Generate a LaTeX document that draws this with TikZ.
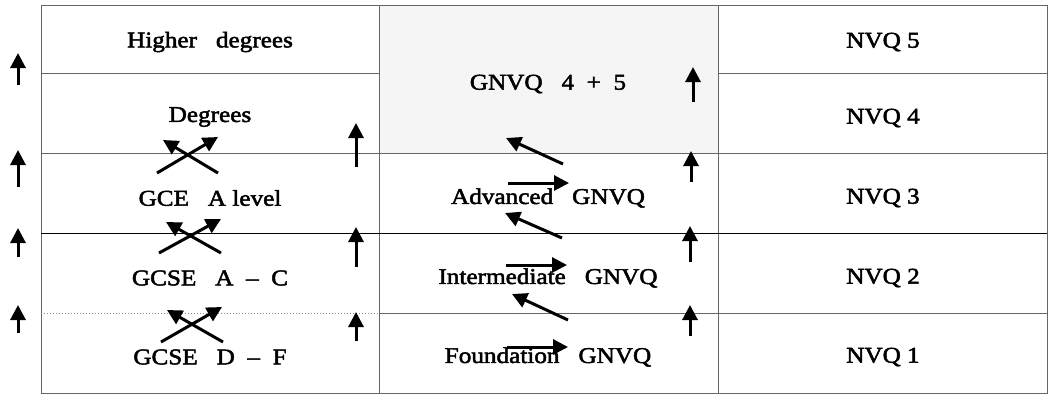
\documentclass[tikz,border=0pt]{standalone}
\usepackage{fontspec}
\setmainfont{Liberation Serif}[FakeStretch=1.12,FakeBold=2.2]
\usetikzlibrary{arrows.meta}
\begin{document}
\begin{tikzpicture}
[x=1pt,y=-1pt,
grid/.style={draw=black!60,line width=1pt},
celltext/.style={font=\fontsize{22.5}{26}\selectfont,inner sep=0pt},
jump/.style={line width=3pt,-{Triangle[length=15pt,width=15pt]}}]
	\useasboundingbox (0,0) rectangle (1048,394);
	\fill[black!4] (379,5) rectangle (718,153);
	\draw[grid] (41,5) rectangle (1047,393);
	\draw[grid] (379,5) -- (379,393) (718,5) -- (718,393);
	\draw[grid] (41,73) -- (379,73) (718,73) -- (1047,73);
	\draw[grid] (41,153) -- (1047,153);
	\draw[grid,draw=black] (41,233) -- (1047,233);
	\draw[grid,draw=black!45,dotted] (41,313) -- (379,313);
	\draw[grid] (379,313) -- (1047,313);
	\node[celltext] (hd) at (210,42) {Higher\ \ \ degrees};
	\node[celltext] (deg) at (210,117) {Degrees};
	\node[celltext] (gce) at (210,198) {GCE\ \ \ A\ level};
	\node[celltext] (gcseac) at (210,278) {GCSE\ \ \ A\ \ –\ \ C};
	\node[celltext] (gcsedf) at (210,357) {GCSE\ \ \ D\ \ –\ \ F};
	\node[celltext] (gnvqhi) at (548,84) {GNVQ\ \ \ 4\ \ +\ \ 5};
	\node[celltext] (adv) at (548,198) {Advanced\ \ \ GNVQ};
	\node[celltext] (inter) at (548,278) {Intermediate\ \ \ GNVQ};
	\node[celltext] (found) at (548,357) {Foundation\ \ \ GNVQ};
	\foreach \n/\y in {5/42,4/118,3/198,2/278,1/357}
		\node[celltext] (nvq\n) at (883,\y) {NVQ\ \n};
	\foreach \n/\x/\ya/\yb in {o1/18/85/53,o2/18/187/150,o3/18/257/228,o4/18/333/305,
		i1/356/167/123,i2/356/267/227,i3/356/341/312,
		m1/693/102/67,m2/691/182/151,m3/690/262/226,m4/690/336/305}{
		\coordinate (up\n a) at (\x,\ya);
		\coordinate (up\n b) at (\x,\yb);
		\draw[jump] (up\n a) -- (up\n b);
	}
	\foreach \n/\xa/\ya/\xb/\yb in {c1/157/173/218/137,c2/218/173/163/140,
		c3/159/253/221/219,c4/221/253/166/222,
		c5/161/342/222/307,c6/223/342/167/310,
		d1/563/164/506/138,d2/562/238/505/213,d3/568/320/512/294,
		h1/508/183/569/183,h2/506/265/567/265,h3/507/347/568/347}{
		\coordinate (mv\n a) at (\xa,\ya);
		\coordinate (mv\n b) at (\xb,\yb);
		\draw[jump] (mv\n a) -- (mv\n b);
	}
\end{tikzpicture}
\end{document}
